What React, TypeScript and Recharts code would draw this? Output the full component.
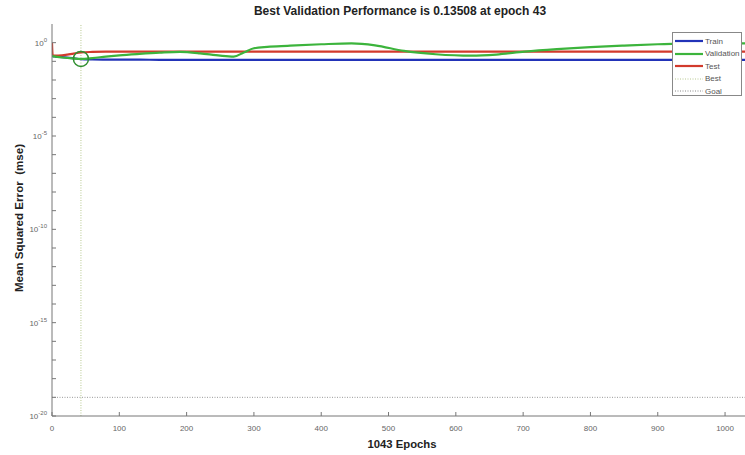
import React from 'react';
import { LineChart, Line, XAxis, YAxis, ReferenceLine, ReferenceDot, Label } from 'recharts';

const epochs = [0, 1, 5, 15, 30, 43, 60, 80, 100, 130, 160, 190, 220, 250, 270, 285, 300, 320, 350, 400, 445, 480, 523, 570, 623, 660, 702, 750, 800, 850, 900, 921, 960, 1000, 1043];
const trainMse = [0.2, 0.19, 0.18, 0.17, 0.15, 0.13, 0.125, 0.123, 0.122, 0.122, 0.121, 0.121, 0.12, 0.12, 0.12, 0.12, 0.12, 0.12, 0.12, 0.12, 0.12, 0.12, 0.12, 0.12, 0.12, 0.12, 0.12, 0.12, 0.12, 0.12, 0.12, 0.12, 0.12, 0.12, 0.12];
const validationMse = [0.2, 0.19, 0.18, 0.16, 0.145, 0.135, 0.15, 0.18, 0.21, 0.25, 0.29, 0.32, 0.27, 0.2, 0.18, 0.3, 0.5, 0.6, 0.68, 0.82, 0.92, 0.72, 0.36, 0.24, 0.2, 0.23, 0.33, 0.45, 0.58, 0.7, 0.82, 0.86, 0.9, 0.92, 0.93];
const testMse = [1.0, 0.2, 0.2, 0.21, 0.25, 0.3, 0.32, 0.33, 0.33, 0.33, 0.33, 0.33, 0.33, 0.33, 0.33, 0.33, 0.33, 0.33, 0.33, 0.33, 0.33, 0.33, 0.33, 0.33, 0.33, 0.33, 0.33, 0.33, 0.33, 0.33, 0.33, 0.33, 0.33, 0.33, 0.33];

const xTicks = [0, 100, 200, 300, 400, 500, 600, 700, 800, 900, 1000];
const yTicks = [1e-20, 1e-19, 1e-18, 1e-17, 1e-16, 1e-15, 1e-14, 1e-13, 1e-12, 1e-11, 1e-10, 1e-9, 1e-8, 1e-7, 1e-6, 1e-5, 1e-4, 1e-3, 1e-2, 1e-1, 1];

const bestEpoch = 43;
const bestPerf = 0.13508;
const goalMse = 1e-19;
const totalEpochs = 1043;

const legendNames = ['Train', 'Validation', 'Test', 'Best', 'Goal'];
const legendColors = ['#2233b8', '#3cb43c', '#d23a2c', '#b8c890', '#888888'];
const legendDashed = [false, false, false, true, true];

const data = epochs.map((e, i) => ({
  epoch: e,
  train: trainMse[i],
  validation: validationMse[i],
  test: testMse[i],
}));

const FONT = '"Liberation Sans", Arial, sans-serif';
const AXIS = '#777';
const TXT = '#666';
const TM = 5;

const YTick = (props: any) => {
  const { x, y, payload } = props;
  const exp = Math.round(Math.log10(payload.value));
  const ax = x + TM;
  return (
    <g>
      <line x1={ax} x2={ax + 4} y1={y} y2={y} stroke={AXIS} strokeWidth={1} />
      {exp % 5 === 0 && (
        <text x={x} y={y + 3} textAnchor="end" fontSize={8} fill={TXT} fontFamily={FONT}>
          <tspan>10</tspan>
          <tspan dy={-4} fontSize={6}>{exp}</tspan>
        </text>
      )}
    </g>
  );
};

const XTick = (props: any) => {
  const { x, y, payload } = props;
  const ay = y - TM;
  return (
    <g>
      <line x1={x} x2={x} y1={ay} y2={ay - 4} stroke={AXIS} strokeWidth={1} />
      <text x={x} y={ay + 15} textAnchor="middle" fontSize={8} fill={TXT} fontFamily={FONT}>
        {payload.value}
      </text>
    </g>
  );
};

export default function App() {
  return (
    <div style={{ position: 'absolute', left: 0, top: 0, width: 745, height: 455, overflow: 'hidden', background: '#fff' }}>
      <LineChart width={754} height={455} data={data} margin={{ top: 24, right: 0, bottom: 0, left: 0 }}>
        <XAxis
          dataKey="epoch"
          type="number"
          domain={[0, totalEpochs]}
          ticks={xTicks}
          tickLine={false}
          tickSize={0}
          tickMargin={TM}
          tick={<XTick />}
          stroke={AXIS}
          height={39}
          allowDataOverflow
        >
          <Label
            content={(p: any) => {
              const vb = p.viewBox;
              return (
                <text x={402} y={vb.y + 32} textAnchor="middle" fontSize={11.3} fontWeight="bold" fill="#222" fontFamily={FONT}>
                  {`${totalEpochs} Epochs`}
                </text>
              );
            }}
          />
        </XAxis>
        <YAxis
          scale="log"
          domain={[1e-20, 10]}
          ticks={yTicks}
          tickLine={false}
          tickSize={0}
          tickMargin={TM}
          tick={<YTick />}
          stroke={AXIS}
          width={52}
          allowDataOverflow
          interval={0}
        >
          <Label
            content={(p: any) => {
              const vb = p.viewBox;
              const cx = 18;
              const cy = vb.y + vb.height / 2 - 2;
              return (
                <text x={cx} y={cy} transform={`rotate(-90 ${cx} ${cy})`} textAnchor="middle" dominantBaseline="central" fontSize={11.6} fontWeight="bold" fill="#222" fontFamily={FONT} style={{ whiteSpace: 'pre' }}>
                  {'Mean Squared Error  (mse)'}
                </text>
              );
            }}
          />
        </YAxis>
        <ReferenceLine y={goalMse} stroke="#999" strokeDasharray="1 1.5" strokeWidth={1} />
        <ReferenceLine x={bestEpoch} stroke="#b8c890" strokeDasharray="1 1.5" strokeWidth={1} />
        <Line type="monotone" dataKey="train" stroke="#2233b8" strokeWidth={2.2} dot={false} isAnimationActive={false} />
        <Line type="monotone" dataKey="test" stroke="#d23a2c" strokeWidth={2.2} dot={false} isAnimationActive={false} />
        <Line type="monotone" dataKey="validation" stroke="#3cb43c" strokeWidth={2.2} dot={false} isAnimationActive={false} />
        <ReferenceDot x={bestEpoch} y={bestPerf} r={7.5} fill="none" stroke="#2f8f2f" strokeWidth={1.5} />
      </LineChart>
      <div
        style={{
          position: 'absolute', left: 0, top: 4, width: 800, textAlign: 'center',
          fontFamily: FONT, fontWeight: 'bold', fontSize: 12, color: '#222', lineHeight: '15px',
        }}
      >
        {`Best Validation Performance is ${bestPerf} at epoch ${bestEpoch}`}
      </div>
      <div
        style={{
          position: 'absolute', left: 672, top: 32, width: 70, height: 64,
          border: '1px solid #888', background: '#fff', fontFamily: FONT, fontSize: 8, color: '#555',
          paddingTop: 2, boxSizing: 'border-box',
        }}
      >
        {legendNames.map((n, i) => (
          <div key={n} style={{ display: 'flex', alignItems: 'center', height: 12.5 }}>
            <svg width={31} height={6} style={{ marginLeft: 1 }}>
              <line
                x1={1} x2={29} y1={3} y2={3}
                stroke={legendColors[i]}
                strokeWidth={legendDashed[i] ? 1 : 2.2}
                strokeDasharray={legendDashed[i] ? '1 1.5' : undefined}
              />
            </svg>
            <span style={{ marginLeft: 0 }}>{n}</span>
          </div>
        ))}
      </div>
    </div>
  );
}
